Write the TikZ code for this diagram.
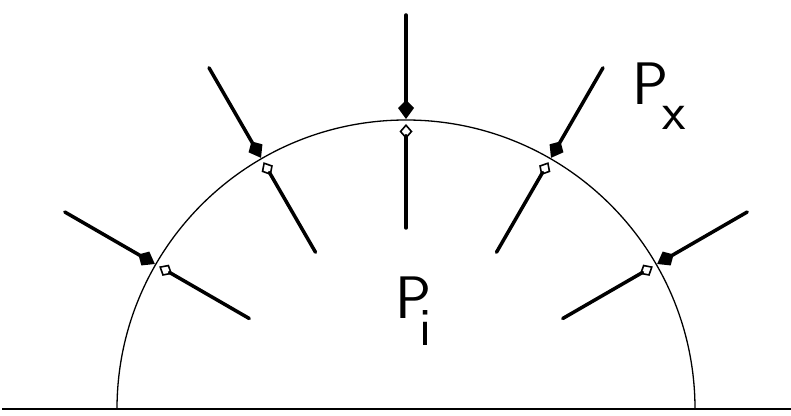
\documentclass[tikz,border=0pt]{standalone}
\usepackage{fontspec}
\usetikzlibrary{arrows.meta}

\tikzset{
  ray/.style={line width=3.5pt, line cap=round},
  inhead/.style={-{Kite[length=19pt, width=16pt, inset=8pt]}},
  outhead/.style={-{Kite[open, length=15pt, width=13pt, inset=7.5pt, line width=1.6pt]}},
  bigtext/.style={font=\fontsize{60}{60}\selectfont\sffamily, inner sep=0pt}
}

\begin{document}
\begin{tikzpicture}[x=1pt, y=1pt]

        \useasboundingbox (0,0) rectangle (791,415);

        % Ground line
        \coordinate (gl) at (2,6);
        \coordinate (gr) at (791,6);
        \draw[line width=2.5pt] (gl) -- (gr);

        % Boundary
        \coordinate (c) at (406,6);
        \draw[line width=1.3pt] (c) ++(0:289) arc[start angle=0, end angle=180, radius=289];

        % Rays: in from outside, out from inside
        \foreach \a in {30,60,...,150} {
            \path (c) ++(\a:394) coordinate (o\a);
            \path (c) ++(\a:290) coordinate (s\a);
            \path (c) ++(\a:285) coordinate (t\a);
            \path (c) ++(\a:181) coordinate (e\a);
            \draw[ray, inhead] (o\a) -- (s\a);
            \draw[ray, outhead] (e\a) -- (t\a);
        }

        % Labels
        \node[bigtext, anchor=base west] (pi) at (395,97)
            {P\kern-0.2em\raisebox{-27pt}{\fontsize{54}{54}\selectfont i}};
        \node[bigtext, anchor=base west] (px) at (632,310)
            {P\kern-0.1em\raisebox{-25pt}{\fontsize{54}{54}\selectfont x}};

\end{tikzpicture}
\end{document}
